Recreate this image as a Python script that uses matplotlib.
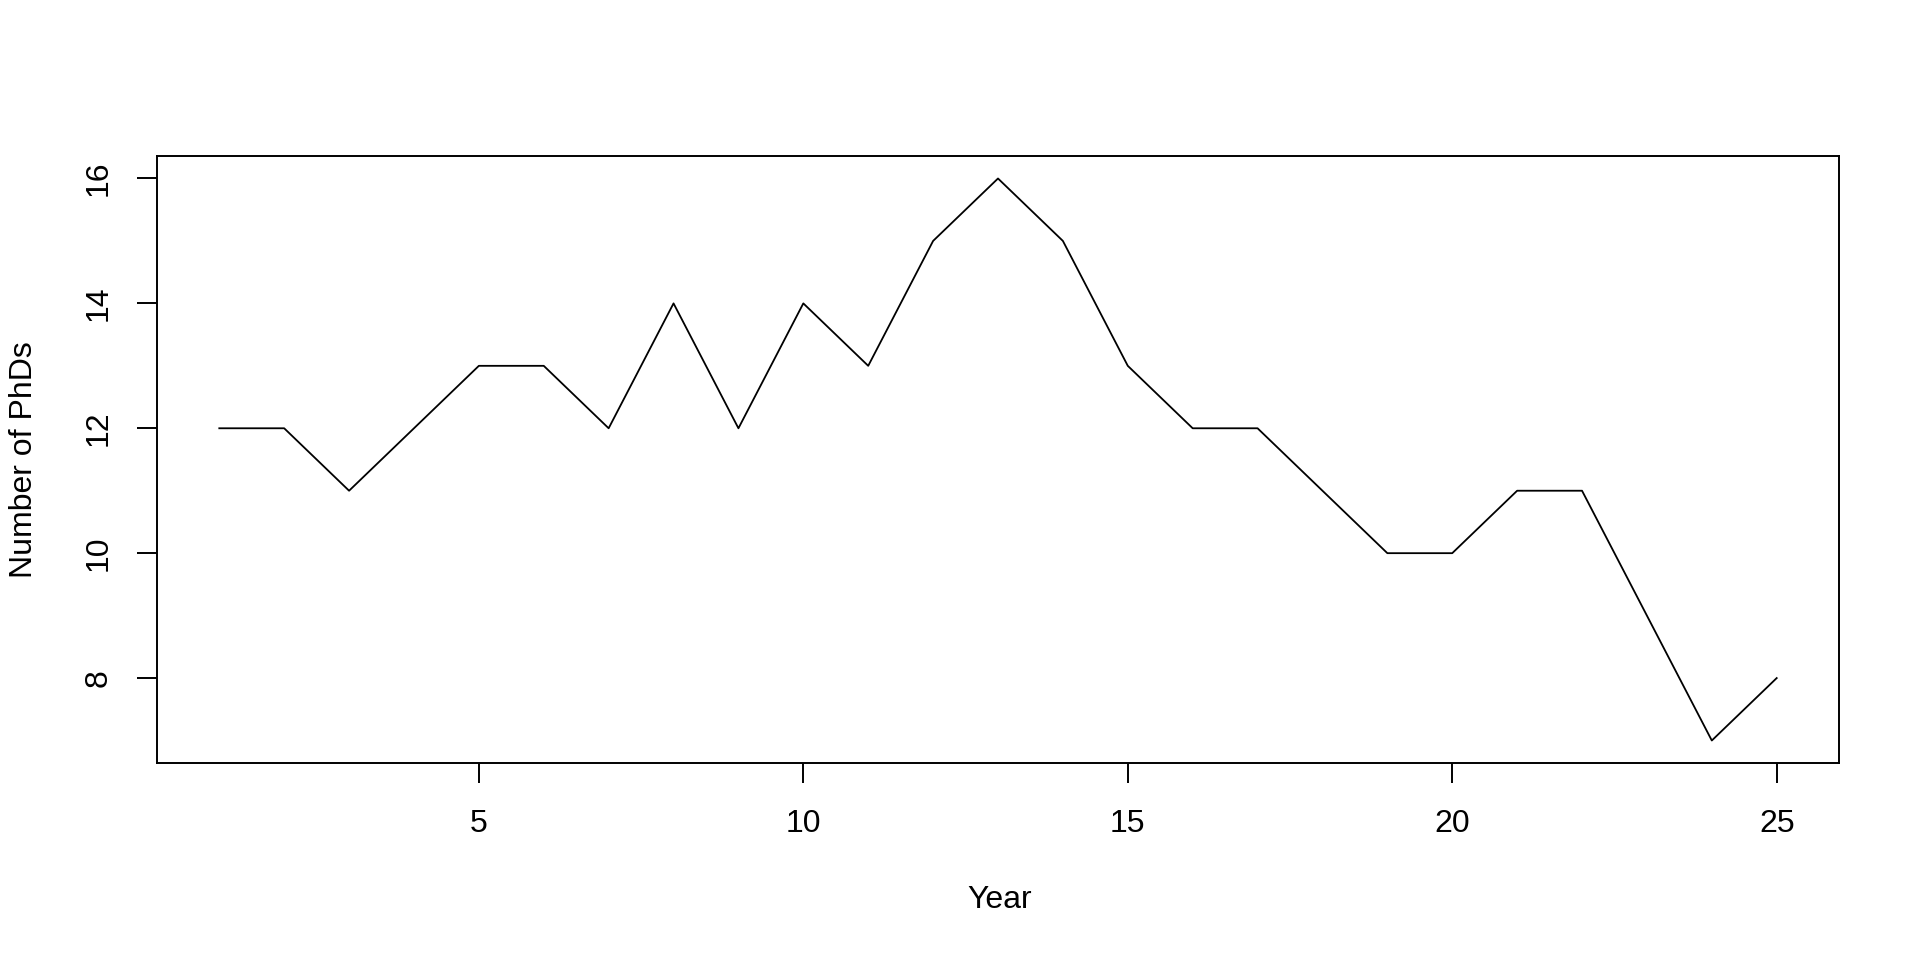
import numpy as np
import matplotlib.pyplot as plt

plt.rcParams['font.family'] = ['Liberation Sans', 'DejaVu Sans']

year = np.arange(1, 26)
phds = [12, 12, 11, 12, 13, 13, 12, 14, 12, 14, 13, 15, 16,
        15, 13, 12, 12, 11, 10, 10, 11, 11, 9, 7, 8]
xticks = [5, 10, 15, 20, 25]
yticks = [8, 10, 12, 14, 16]

fig = plt.figure(figsize=(19.2, 9.6), dpi=100)
ax = fig.add_axes([157/1920, 1 - 763/960, (1839 - 157)/1920, (763 - 156)/960])

ax.plot(year, phds, color='black', linewidth=1.3)

# R-style 4% axis expansion
xr = max(year) - min(year)
yr = max(phds) - min(phds)
ax.set_xlim(min(year) - 0.04*xr, max(year) + 0.04*xr)
ax.set_ylim(min(phds) - 0.04*yr, max(phds) + 0.04*yr)

ax.set_xticks(xticks)
ax.set_yticks(yticks)
ax.set_yticklabels([str(v) for v in yticks], rotation=90, va='center')
ax.tick_params(axis='both', direction='out', length=14.4, width=1.4,
               labelsize=23)
ax.tick_params(axis='x', pad=19)
ax.tick_params(axis='y', pad=17)
for s in ax.spines.values():
    s.set_linewidth(1.4)

fig.text(816/1568, 1 - 900/960, 'Year', ha='center', va='center', fontsize=23)
fig.text(24/1920, 1 - 460/960, 'Number of PhDs', ha='center', va='center',
         rotation=90, fontsize=23)

fig.savefig('out.png', dpi=100)
